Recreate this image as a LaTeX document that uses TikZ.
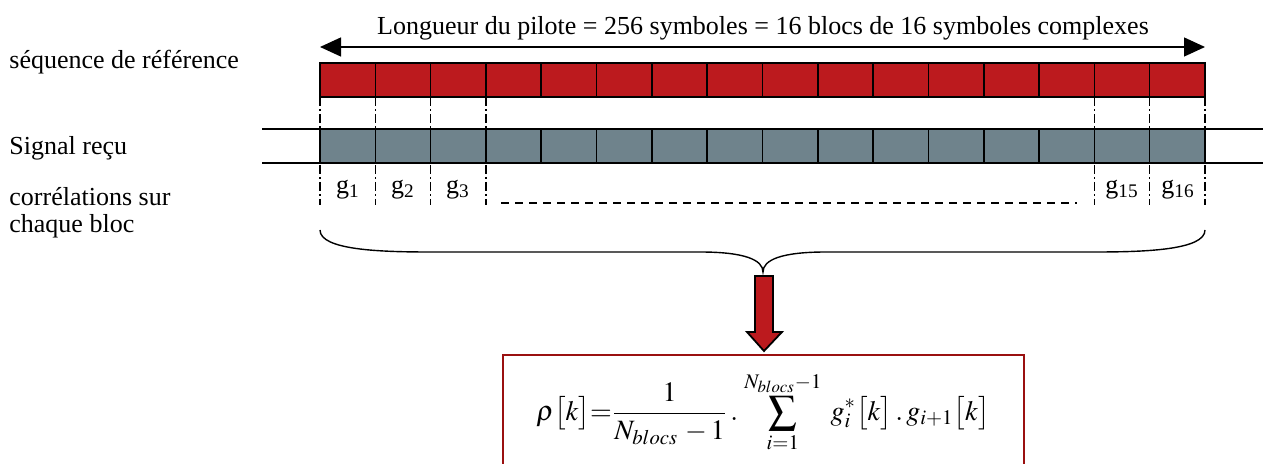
\documentclass[tikz,border=0pt]{standalone}
\usepackage{amsmath}
\usepackage{mathptmx}
\usepackage{fontspec}
\setmainfont{Liberation Serif}
\usepackage{tikz}
\usetikzlibrary{arrows.meta}
\definecolor{PiloteRed}{HTML}{BC1A1E}
\definecolor{RecuGray}{HTML}{6F838C}
\definecolor{BoxRed}{HTML}{9A1010}
\newcommand{\gsub}[1]{g\textsubscript{#1}}

\begin{document}
\begin{tikzpicture}[x=0.5pt,y=-0.5pt,font=\fontsize{13}{13.5}\selectfont,
  blk/.style={draw,line width=0.8pt,inner sep=0pt,outer sep=0pt,minimum width=27.66pt,minimum height=17pt},
  lbl/.style={anchor=west,inner sep=0pt,align=left},
  cut/.style={line width=0.6pt,dash pattern=on 4.5pt off 1.5pt on 1pt off 1.5pt}]
  \useasboundingbox (0,0) rectangle (1269,464);
  \foreach \i in {1,...,16}{
    \node[blk,fill=PiloteRed] (r\i) at ({320+55.3125*(\i-0.5)},80) {};
    \node[blk,fill=RecuGray] (s\i) at ({320+55.3125*(\i-0.5)},146) {};
  }
  \draw[line width=0.7pt] (262,129) -- (s1.north west) (262,163) -- (s1.south west);
  \draw[line width=0.7pt] (s16.north east) -- (1263,129) (s16.south east) -- (1263,163);
  \node[lbl] (ref) at (9,62) {séquence de référence};
  \node[lbl] (recu) at (9,148) {Signal reçu};
  \node[lbl] (corr) at (9,213) {corrélations sur\\chaque bloc};
  \node (lg) at (763,28) {Longueur du pilote = 256 symboles = 16 blocs de 16 symboles complexes};
  \coordinate (al) at (320,47);
  \coordinate (ar) at (1205,47);
  \draw[line width=0.65pt,{Triangle[length=10.5pt,width=9.5pt]}-{Triangle[length=10.5pt,width=9.5pt]}] (al) -- (ar);
  \foreach \c in {r1.north west,r1.north east,r2.north east,r3.north east,r15.north west,r16.north west,r16.north east}
    \draw[cut] (\c) -- ++(0,142);
  \node (g1) at (348,190) {\gsub{1}};
  \node (g2) at (403,190) {\gsub{2}};
  \node (g3) at (458,190) {\gsub{3}};
  \node (g15) at (1122,190) {\gsub{15}};
  \node (g16) at (1178,190) {\gsub{16}};
  \coordinate (d1) at (501,203);
  \coordinate (d2) at (1077,203);
  \draw[line width=0.6pt,dash pattern=on 4pt off 3pt] (d1) -- (d2);
  \coordinate (bl) at (320,230);
  \coordinate (bt) at (763,272);
  \coordinate (br) at (1205,230);
  \draw[line width=0.7pt] (bl) .. controls (320,250) and (380,252) .. (430,252) -- (700,252)
    .. controls (745,252) and (763,260) .. (bt)
    .. controls (763,260) and (781,252) .. (826,252) -- (1095,252)
    .. controls (1145,252) and (1205,250) .. (br);
  \draw[fill=PiloteRed,line width=0.9pt] (755,276) -- (773,276) -- (773,332) -- (782,332)
    -- (764,351) -- (747,332) -- (755,332) -- cycle;
  \draw[BoxRed,line width=0.9pt] (503,470) -- (503,355) -- (1024,355) -- (1024,470);
  \node (rho) at (763,412) {\fontsize{14}{16}\selectfont
    $\displaystyle \rho\bigl[k\bigr]{=}\frac{1}{N_{blocs}\,-1}\,.\,\sum_{i=1}^{N_{blocs}-1}\; g_i^{*}\bigl[k\bigr]\,.\,g_{i+1}\bigl[k\bigr]$};
\end{tikzpicture}
\end{document}
